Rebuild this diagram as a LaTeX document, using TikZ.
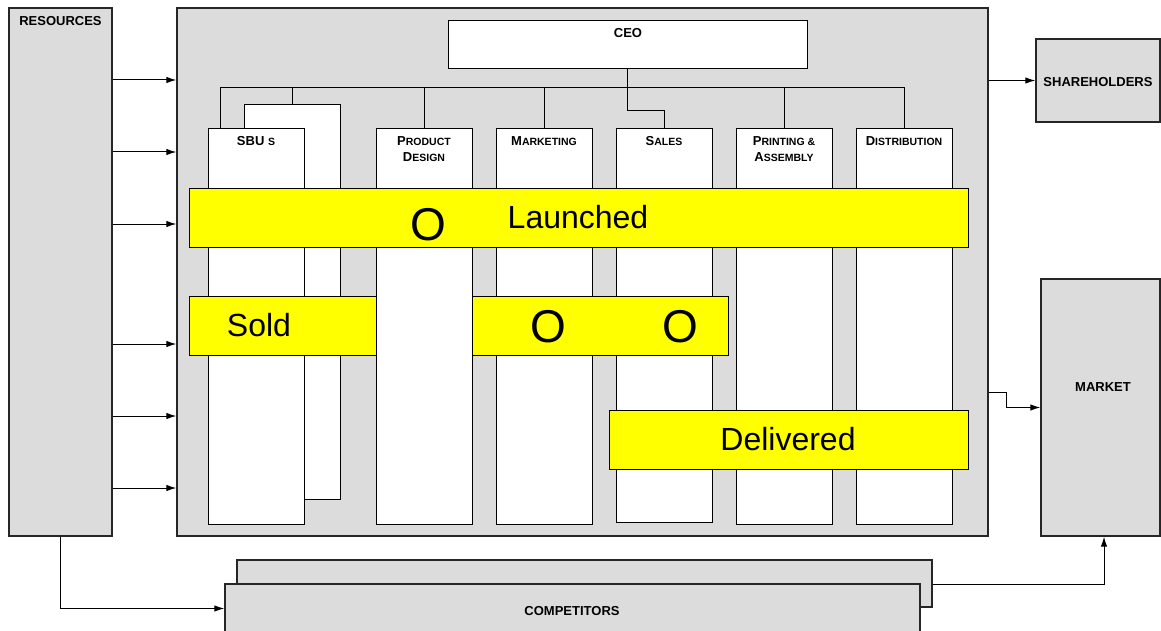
\documentclass[tikz,border=0pt]{standalone}
\usepackage{fontspec}
\setmainfont{Liberation Sans}
\usetikzlibrary{arrows.meta}

\definecolor{panel}{RGB}{220,220,220}
\definecolor{bar}{RGB}{255,255,0}

\tikzset{
  outer/.style={draw=black!85, line width=1.4pt, fill=panel, inner sep=0pt},
  unit/.style={draw=black, line width=0.9pt, fill=white, inner sep=0pt},
  band/.style={draw=black, line width=0.9pt, fill=bar, inner sep=0pt},
  flow/.style={line width=1pt, -{Latex[length=10pt,width=6.5pt]}},
  tie/.style={line width=0.9pt},
  lbl/.style={font=\bfseries\fontsize{13}{15}\selectfont, inner sep=0pt},
  head/.style={font=\bfseries\fontsize{13}{16}\selectfont, align=center, inner sep=0pt},
  big/.style={font=\fontsize{32}{36}\selectfont, anchor=base, inner sep=0pt},
  ring/.style={font=\fontsize{46}{50}\selectfont, anchor=base, inner sep=0pt},
}
% small-caps look: large initial, smaller rest
\newcommand\smc[2]{{\fontsize{13}{16}\selectfont #1}{\fontsize{10.5}{16}\selectfont #2}}
% box from corner coordinates: name, style, x1, y1, x2, y2
\newcommand\blk[6]{\node[#2, minimum width={#5-#3}, minimum height={#6-#4}] (#1) at ({(#3+#5)/2},{(#4+#6)/2}) {};}

\begin{document}
\begin{tikzpicture}[x=1pt,y=-1pt]
\useasboundingbox (0,0) rectangle (1161,631);

% surrounding blocks
\blk{res}{outer}{9}{8}{112}{536}
\blk{main}{outer}{177}{8}{988}{536}
\blk{share}{outer}{1036}{39}{1160}{122}
\blk{market}{outer}{1041}{279}{1160}{536}
\blk{compB}{outer}{237}{560}{932}{607}
\blk{compA}{outer}{225}{584}{920}{633}

% CEO and organisation tree
\blk{ceo}{unit}{448}{20}{807}{68}
\coordinate (railL) at (220,87);
\coordinate (sbuTie) at (220,128);

\blk{sbuB}{unit}{244}{104}{340}{499}
\blk{sbuA}{unit}{208}{128}{304}{524}
\blk{prod}{unit}{376}{128}{472}{524}
\blk{mkt}{unit}{496}{128}{592}{524}
\blk{sales}{unit}{616}{128}{712}{522}
\blk{print}{unit}{736}{128}{832}{524}
\blk{dist}{unit}{856}{128}{952}{524}

\draw[tie] (sbuTie) -- (railL) -- (railL -| dist.north) -- (dist.north);
\draw[tie] (sbuB.north) -- (sbuB.north |- railL);
\draw[tie] (prod.north) -- (prod.north |- railL);
\draw[tie] (mkt.north) -- (mkt.north |- railL);
\draw[tie] (print.north) -- (print.north |- railL);
\draw[tie] (ceo.south) -- ++(0,42) -| (sales.north);

% headings
\node[lbl] (ceoT) at (628,33) {CEO};
\node[head] (sbuT) at (256,141) {\smc{SBU }{S}};
\node[head] (prodT) at (424,149) {\smc{P}{RODUCT}\\\smc{D}{ESIGN}};
\node[head] (mktT) at (544,141) {\smc{M}{ARKETING}};
\node[head] (salesT) at (664,141) {\smc{S}{ALES}};
\node[head] (printT) at (784,149) {\smc{P}{RINTING \&}\\\smc{A}{SSEMBLY}};
\node[head] (distT) at (904,141) {\smc{D}{ISTRIBUTION}};

% status bands
\blk{launch}{band}{189}{188}{968}{247}
\blk{sold}{band}{189}{296}{376}{355}
\blk{oo}{band}{472}{296}{728}{355}
\blk{deliv}{band}{609}{410}{968}{469}

\node[ring] (o1) at (428,240) {O};
\node[big] (launchT) at (578,228) {Launched};
\node[big] (soldT) at (259,336) {Sold};
\node[ring] (o2) at (548,342) {O};
\node[ring] (o3) at (680,342) {O};
\node[big] (delivT) at (788,450) {Delivered};

% block labels
\node[lbl] (resT) at (60.5,21) {RESOURCES};
\node[lbl] (shareT) at (1098,82) {SHAREHOLDERS};
\node[lbl] (marketT) at (1103,387) {MARKET};
\node[lbl] (compT) at (572,611) {COMPETITORS};

% flows
\foreach \yy in {80,152,224,344,416,488}
  \draw[flow] (res.east |- 0,\yy) -- (main.west |- 0,\yy);
\draw[flow] (main.east |- share.west) -- (share.west);
\draw[flow] (main.east |- 0,392) -- ++(18,0) |- (market.west);
\draw[flow] (res.south) |- (compA.west);
\draw[flow] (compB.east |- 0,584) -| (market.south -| 1104,0);
\end{tikzpicture}
\end{document}
